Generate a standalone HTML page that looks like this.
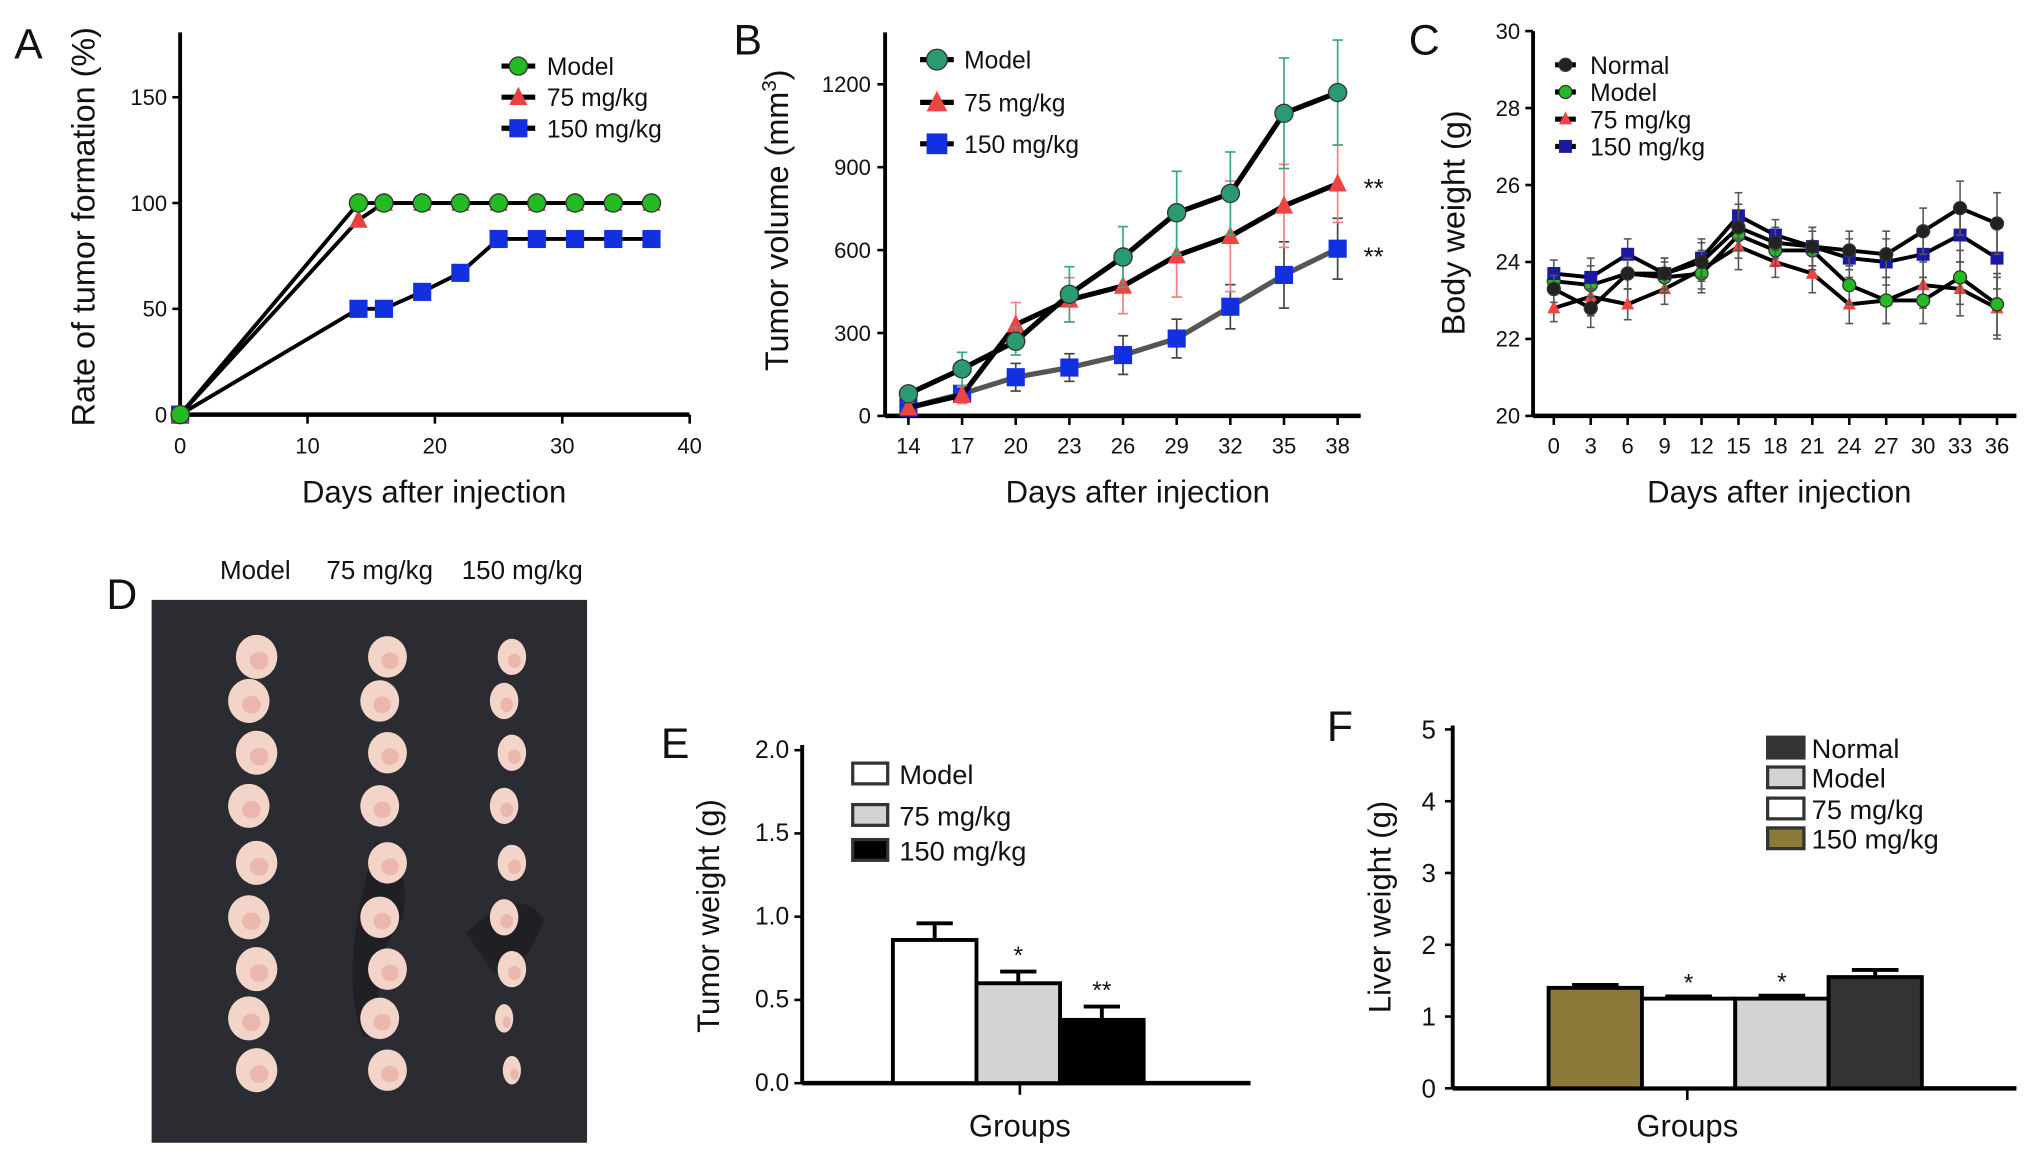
<!DOCTYPE html>
<html><head><meta charset="utf-8"><style>
html,body{margin:0;padding:0;background:#fff;}
svg{display:block;font-family:"Liberation Sans",Arial,sans-serif;}
</style></head><body>
<svg id="fig" width="2032" height="1157" viewBox="0 0 1568 893" preserveAspectRatio="none" xmlns="http://www.w3.org/2000/svg">
<g id="photo">
<rect x="117" y="463" width="336" height="419" fill="#2b2c31"/>
<path d="M290 650 q30 20 20 60 q-30 40 -10 90 l-20 0 q-20 -50 10 -150z" fill="#1f2024"/>
<path d="M360 720 q40 -40 60 -10 q-20 50 -40 40z" fill="#1f2024"/>
</g>
</svg>
<script>
const svg=document.getElementById('fig');
const NS='http://www.w3.org/2000/svg';
function mk(tag,attrs,parent){const e=document.createElementNS(NS,tag);for(const k in attrs)e.setAttribute(k,attrs[k]);(parent||svg).appendChild(e);return e;}
function txt(s,x,y,size,anchor,parent,rot){const t=mk('text',{x:x,y:y,'font-size':size,'text-anchor':anchor||'middle',fill:'#111'},parent);if(rot)t.setAttribute('transform','rotate(-90 '+x+' '+y+')');t.textContent=s;return t;}

// ---- Panel A data ----
const aDays=[0,14,16,19,22,25,28,31,34,37];
const aModel=[0,100,100,100,100,100,100,100,100,100];
const a75=[0,92,100,100,100,100,100,100,100,100];
const a150=[0,50,50,58,67,83,83,83,83,83];
const aYTicks=[0,50,100,150];
const aXTicks=[0,10,20,30,40];
// ---- Panel B data ----
const bDays=[14,17,20,23,26,29,32,35,38];
const bModel=[80,170,270,440,575,735,805,1095,1170];
const bModelErr=[20,60,50,100,110,150,150,200,190];
const b75=[30,75,330,420,470,580,650,760,840];
const b75Err=[20,30,80,80,100,150,200,150,140];
const b150=[30,80,140,175,220,280,395,510,605];
const b150Err=[20,20,50,50,70,70,80,120,110];
const bYTicks=[0,300,600,900,1200];
// ---- Panel C data ----
const cDays=[0,3,6,9,12,15,18,21,24,27,30,33,36];
const cNormal=[23.3,22.8,23.7,23.7,24.0,24.9,24.5,24.4,24.3,24.2,24.8,25.4,25.0];
const cModel=[23.5,23.4,23.7,23.6,23.7,24.7,24.3,24.3,23.4,23.0,23.0,23.6,22.9];
const c75=[22.8,23.1,22.9,23.3,23.8,24.4,24.0,23.7,22.9,23.0,23.4,23.3,22.8];
const c150=[23.7,23.6,24.2,23.7,24.1,25.2,24.7,24.4,24.1,24.0,24.2,24.7,24.1];
const cErr=[0.35,0.5,0.4,0.4,0.5,0.6,0.4,0.5,0.5,0.6,0.6,0.7,0.8];
const cYTicks=[20,22,24,26,28,30];
// ---- Panel E data ----
const eGroups=['Model','75 mg/kg','150 mg/kg'];
const eVals=[0.86,0.6,0.38];
const eErr=[0.1,0.07,0.08];
const eStars=['','*','**'];
const eYTicks=[0.0,0.5,1.0,1.5,2.0];
// ---- Panel F data ----
const fGroups=['150 mg/kg','75 mg/kg','Model','Normal'];
const fVals=[1.4,1.25,1.25,1.55];
const fErr=[0.04,0.03,0.04,0.1];
const fStars=['','*','*',''];
const fYTicks=[0,1,2,3,4,5];

function axisLines(g,x0,y0,x1,ytop){
  mk('line',{x1:x0,y1:ytop,x2:x0,y2:y0,stroke:'#000','stroke-width':3},g);
  mk('line',{x1:x0,y1:y0,x2:x1,y2:y0,stroke:'#000','stroke-width':3.5},g);
}
function marker(g,shape,x,y,fill,s){
  s=s||7;
  if(shape==='c')mk('circle',{cx:x,cy:y,r:s,fill:fill,stroke:'#333','stroke-width':1},g);
  else if(shape==='t')mk('polygon',{points:(x)+','+(y-s-1)+' '+(x-s)+','+(y+s-1)+' '+(x+s)+','+(y+s-1),fill:fill},g);
  else mk('rect',{x:x-s,y:y-s,width:2*s,height:2*s,fill:fill},g);
}

// ================= Panel A =================
(function(){
const g=mk('g',{});
const X=d=>139+d*9.83, Y=v=>320-v*1.633;
axisLines(g,139,320,532,25);
aYTicks.forEach(v=>{mk('line',{x1:133,y1:Y(v),x2:139,y2:Y(v),stroke:'#000','stroke-width':2},g);txt(v,129,Y(v)+6,17,'end',g);});
aXTicks.forEach(v=>{mk('line',{x1:X(v),y1:320,x2:X(v),y2:327,stroke:'#000','stroke-width':2},g);txt(v,X(v),350,17,'middle',g);});
const series=[[a150,'s','#1230e0'],[a75,'t','#e84040'],[aModel,'c','#22bb22']];
series.forEach(([vals,sh,col])=>{
  mk('polyline',{points:aDays.map((d,i)=>X(d)+','+Y(vals[i])).join(' '),fill:'none',stroke:'#000','stroke-width':3},g);
  aDays.forEach((d,i)=>marker(g,sh,X(d),Y(vals[i]),col,7));
});
[['Model','c','#22bb22',51],['75 mg/kg','t','#e84040',75],['150 mg/kg','s','#1230e0',99]].forEach(([n,sh,col,y])=>{
  const lg=mk('g',{},g);
  mk('line',{x1:387,y1:y,x2:413,y2:y,stroke:'#000','stroke-width':4},lg);marker(lg,sh,400,y,col,7);txt(n,422,y+7,19,'start',lg);
});
const yl=txt('Rate of tumor formation (%)',73,175,25,'middle',g,true);
const xl=txt('Days after injection',335,388,24,'middle',g);
txt('A',22,45,33,'middle',g);
})();

// ================= Panel B =================
(function(){
const g=mk('g',{});
const X=d=>701+(d-14)*13.8, Y=v=>321-v*0.2133;
axisLines(g,683,321,1050,25);
bYTicks.forEach(v=>{mk('line',{x1:677,y1:Y(v),x2:683,y2:Y(v),stroke:'#000','stroke-width':2},g);txt(v,672,Y(v)+6,17,'end',g);});
bDays.forEach(v=>{mk('line',{x1:X(v),y1:321,x2:X(v),y2:328,stroke:'#000','stroke-width':2},g);txt(v,X(v),350,17,'middle',g);});
const series=[[b150,b150Err,'s','#1230e0','#555','#444'],[b75,b75Err,'t','#ee4444','#000','#f08080'],[bModel,bModelErr,'c','#2a9a70','#000','#3aa880']];
series.forEach(([vals,err,sh,col,lc,ec])=>{
  bDays.forEach((d,i)=>{const x=X(d);mk('line',{x1:x,y1:Y(vals[i]-err[i]),x2:x,y2:Y(vals[i]+err[i]),stroke:ec,'stroke-width':1.3},g);
    [vals[i]-err[i],vals[i]+err[i]].forEach(v=>mk('line',{x1:x-4,y1:Y(v),x2:x+4,y2:Y(v),stroke:ec,'stroke-width':1.3},g));});
  mk('polyline',{points:bDays.map((d,i)=>X(d)+','+Y(vals[i])).join(' '),fill:'none',stroke:lc,'stroke-width':4},g);
  bDays.forEach((d,i)=>marker(g,sh,X(d),Y(vals[i]),col,7));
});
txt('**',1060,152,20,'middle',g);txt('**',1060,205,20,'middle',g);
[['Model','c','#2a9a70',46],['75 mg/kg','t','#ee4444',79],['150 mg/kg','s','#1230e0',111]].forEach(([n,sh,col,y])=>{
  const lg=mk('g',{},g);
  mk('line',{x1:710,y1:y,x2:736,y2:y,stroke:'#000','stroke-width':4},lg);marker(lg,sh,723,y,col,8);txt(n,744,y+7,19,'start',lg);
});
const yl=mk('text',{x:608,y:170,'font-size':25,'text-anchor':'middle',fill:'#111',transform:'rotate(-90 608 170)'},g);
yl.innerHTML='Tumor volume (mm<tspan dy="-9" font-size="16">3</tspan><tspan dy="9">)</tspan>';

const xl=txt('Days after injection',878,388,24,'middle',g);
txt('B',577,42,33,'middle',g);
})();

// ================= Panel C =================
(function(){
const g=mk('g',{});
const X=d=>1199+d*9.5, Y=v=>321-(v-20)*29.7;
axisLines(g,1183,321,1556,24);
cYTicks.forEach(v=>{mk('line',{x1:1177,y1:Y(v),x2:1183,y2:Y(v),stroke:'#000','stroke-width':2},g);txt(v,1173,Y(v)+6,17,'end',g);});
cDays.forEach(v=>{mk('line',{x1:X(v),y1:321,x2:X(v),y2:328,stroke:'#000','stroke-width':2},g);txt(v,X(v),350,17,'middle',g);});
const series=[[c75,'t','#ee4444'],[cModel,'c','#22bb22'],[c150,'s','#1a1aa0'],[cNormal,'c','#222']];
series.forEach(([vals,sh,col])=>{
  cDays.forEach((d,i)=>{const x=X(d);mk('line',{x1:x,y1:Y(vals[i]-cErr[i]),x2:x,y2:Y(vals[i]+cErr[i]),stroke:'#555','stroke-width':1.2},g);
    [vals[i]-cErr[i],vals[i]+cErr[i]].forEach(v=>mk('line',{x1:x-3,y1:Y(v),x2:x+3,y2:Y(v),stroke:'#555','stroke-width':1.2},g));});
  mk('polyline',{points:cDays.map((d,i)=>X(d)+','+Y(vals[i])).join(' '),fill:'none',stroke:'#000','stroke-width':3},g);
  cDays.forEach((d,i)=>marker(g,sh,X(d),Y(vals[i]),col,5));
});
[['Normal','c','#222',50],['Model','c','#22bb22',71],['75 mg/kg','t','#ee4444',92],['150 mg/kg','s','#1a1aa0',113]].forEach(([n,sh,col,y])=>{
  const lg=mk('g',{},g);
  mk('line',{x1:1200,y1:y,x2:1216,y2:y,stroke:'#000','stroke-width':4},lg);marker(lg,sh,1208,y,col,5);txt(n,1227,y+7,19,'start',lg);
});
const yl=txt('Body weight (g)',1130,172,25,'middle',g,true);
const xl=txt('Days after injection',1373,388,24,'middle',g);
txt('C',1099,42,33,'middle',g);
})();

// ================= Panel D =================
(function(){
const g=mk('g',{});
txt('Model',197,447,20,'middle',g);txt('75 mg/kg',293,447,20,'middle',g);txt('150 mg/kg',403,447,20,'middle',g);
txt('D',94,470,33,'middle',g);
const cols=[195,296,392];const rows=[507,541,581,622,666,708,748,786,826];
const sizes=[[16,17],[15,16],[11,14]];
cols.forEach((cx,ci)=>rows.forEach((cy,ri)=>{
  const rx=sizes[ci][0]-(ci==2&&ri>6?4:0), ry=sizes[ci][1]-(ci==2&&ri>6?3:0);
  mk('ellipse',{cx:cx+(ri%2?-3:3),cy:cy,rx:rx,ry:ry,fill:'#f2d4c8'},g);
  mk('ellipse',{cx:cx+(ri%2?-1:5),cy:cy+3,rx:rx*0.45,ry:ry*0.4,fill:'#e49a90',opacity:0.5},g);
}));
})();

// ================= Panel E =================
(function(){
const g=mk('g',{});
const Y=v=>836-v*128.5;
axisLines(g,619,836,965,575);
eYTicks.forEach(v=>{mk('line',{x1:613,y1:Y(v),x2:619,y2:Y(v),stroke:'#000','stroke-width':2},g);txt(v.toFixed(1),609,Y(v)+6,19,'end',g);});
mk('line',{x1:787,y1:836,x2:787,y2:845,stroke:'#000','stroke-width':2},g);
const fills=['#fff','#d3d3d3','#000'];
eVals.forEach((v,i)=>{const x=689+i*64.5,w=64.5,cx=x+w/2;
  mk('line',{x1:cx,y1:Y(v),x2:cx,y2:Y(v+eErr[i]),stroke:'#000','stroke-width':3},g);
  mk('line',{x1:cx-14,y1:Y(v+eErr[i]),x2:cx+14,y2:Y(v+eErr[i]),stroke:'#000','stroke-width':3},g);
  const r=mk('rect',{x:x,y:Y(v),width:w,height:836-Y(v),fill:fills[i],stroke:'#000','stroke-width':3},g);
  
  if(eStars[i])txt(eStars[i],cx,Y(v+eErr[i])-6,19,'middle',g);
});
eGroups.forEach((n,i)=>{const y=[597,629,656][i];
  const lg=mk('g',{},g);
  mk('rect',{x:658,y:y-8,width:27,height:16,fill:fills[i],stroke:'#333','stroke-width':2.5},lg);txt(n,694,y+8,21,'start',lg);});
const yl=txt('Tumor weight (g)',555,707,24,'middle',g,true);
const xl=txt('Groups',787,877,24,'middle',g);
txt('E',521,585,33,'middle',g);
})();

// ================= Panel F =================
(function(){
const g=mk('g',{});
const Y=v=>840-v*55.4;
axisLines(g,1121,840,1556,560);
fYTicks.forEach(v=>{mk('line',{x1:1115,y1:Y(v),x2:1121,y2:Y(v),stroke:'#000','stroke-width':2},g);txt(v,1108,Y(v)+7,20,'end',g);});
mk('line',{x1:1302,y1:840,x2:1302,y2:849,stroke:'#000','stroke-width':2},g);
const fills=['#8b7a3a','#fff','#d3d3d3','#333'];
fVals.forEach((v,i)=>{const x=1195+i*72,w=72,cx=x+w/2;
  mk('line',{x1:cx,y1:Y(v),x2:cx,y2:Y(v+fErr[i]),stroke:'#000','stroke-width':3},g);
  mk('line',{x1:cx-18,y1:Y(v+fErr[i]),x2:cx+18,y2:Y(v+fErr[i]),stroke:'#000','stroke-width':3},g);
  const r=mk('rect',{x:x,y:Y(v),width:w,height:840-Y(v),fill:fills[i],stroke:'#000','stroke-width':3},g);
  
  if(fStars[i])txt(fStars[i],cx,Y(v+fErr[i])-4,19,'middle',g);
});
[['Normal','#333',577],['Model','#d3d3d3',600],['75 mg/kg','#fff',624],['150 mg/kg','#8b7a3a',647]].forEach(([n,c,y])=>{
  const lg=mk('g',{},g);
  mk('rect',{x:1364,y:y-8,width:28,height:16,fill:c,stroke:'#333','stroke-width':2.5},lg);txt(n,1398,y+8,21,'start',lg);});
const yl=txt('Liver weight (g)',1073,700,24,'middle',g,true);
const xl=txt('Groups',1302,877,24,'middle',g);
txt('F',1034,572,33,'middle',g);
})();
</script>
</body></html>
